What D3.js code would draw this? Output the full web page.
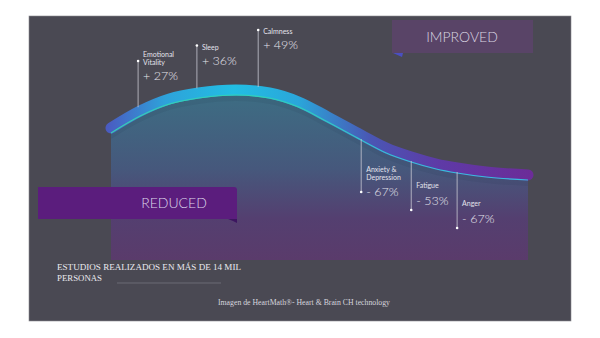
<!DOCTYPE html>
<html>
<head>
<meta charset="utf-8">
<script src="https://cdn.jsdelivr.net/npm/d3@7"></script>
<style>
  html, body { margin: 0; padding: 0; background: #ffffff; }
  svg { display: block; }
</style>
</head>
<body>
<svg id="chart" width="600" height="338"></svg>
<script>
// Wellbeing curve: position along the programme (0-100) and level (0-100)
const curveX     = [0, 7, 14, 21, 30, 38, 45, 52, 60, 66, 72, 78, 83, 90, 100];
const curveLevel = [63.5, 72, 78, 81, 82.5, 81, 76.5, 69, 60, 53.5, 49, 45.5, 43.5, 41.5, 40];

// Measured effects and where they sit along the curve
const effectNames  = [["Emotional", "Vitality"], ["Sleep"], ["Calmness"],
                      ["Anxiety &", "Depression"], ["Fatigue"], ["Anger"]];
const effectValues = [27, 36, 49, -67, -53, -67];
const effectAt     = [6.5, 20.6, 35.3, 60, 72, 83];

const improvedLabel = "IMPROVED";
const reducedLabel  = "REDUCED";
const noteLines     = ["ESTUDIOS REALIZADOS EN MÁS DE 14 MIL", "PERSONAS"];
const creditLine    = "Imagen de HeartMath®- Heart & Brain CH technology";

const svg = d3.select("#chart");
const defs = svg.append("defs");

const x = d3.scaleLinear().domain([0, 100]).range([111, 528]);
const y = d3.scaleLinear().domain([0, 100]).range([260, 60]);

const pts = curveX.map((d, i) => ({ x: d, v: curveLevel[i] }));
const bandW = 11;
const sans = "Lato, 'Open Sans', sans-serif";
const serif = "'Liberation Serif', 'DejaVu Serif', serif";

// Panel
svg.append("rect").attr("x", 29).attr("y", 16).attr("width", 542).attr("height", 305)
  .attr("fill", "#4a4953").attr("stroke", "#8a8a90").attr("stroke-width", 0.6);

// Gradients
const fillGrad = defs.append("linearGradient").attr("id", "fillGrad")
  .attr("gradientUnits", "userSpaceOnUse").attr("x1", 0).attr("y1", y(83)).attr("x2", 0).attr("y2", y(0));
[[0, "#3d6d83"], [0.45, "#46587c"], [0.75, "#543f70"], [1, "#5a3b6b"]]
  .forEach(([o, c]) => fillGrad.append("stop").attr("offset", o).attr("stop-color", c));

const bandGrad = defs.append("linearGradient").attr("id", "bandGrad")
  .attr("gradientUnits", "userSpaceOnUse").attr("x1", 105).attr("y1", 0).attr("x2", 534).attr("y2", 0);
[[0, "#4b58c0"], [0.14, "#2ea2da"], [0.3, "#22bee3"], [0.45, "#2aa6da"], [0.62, "#4a56b4"],
 [0.78, "#5e3aa6"], [1, "#6c2c98"]]
  .forEach(([o, c]) => bandGrad.append("stop").attr("offset", o).attr("stop-color", c));

const edgeGrad = defs.append("linearGradient").attr("id", "edgeGrad")
  .attr("gradientUnits", "userSpaceOnUse").attr("x1", 111).attr("y1", 0).attr("x2", 528).attr("y2", 0);
[[0, "#35d2b2"], [0.45, "#30d0b8"], [0.65, "#34c2d4"], [1, "#3ab9e2"]]
  .forEach(([o, c]) => edgeGrad.append("stop").attr("offset", o).attr("stop-color", c));

// Area under the curve
const area = d3.area().x(d => x(d.x)).y0(y(0)).y1(d => y(d.v)).curve(d3.curveMonotoneX);
svg.append("path").datum(pts).attr("d", area).attr("fill", "url(#fillGrad)");

// Faint shadow beneath the band
const shadowArea = d3.area().x(d => x(d.x)).y0(d => y(d.v) + 6).y1(d => y(d.v)).curve(d3.curveMonotoneX);
svg.append("path").datum(pts).attr("d", shadowArea).attr("fill", "#1e2a40").attr("opacity", 0.08);

// Band riding on top of the curve
const bandLine = d3.line().x(d => x(d.x)).y(d => y(d.v) - bandW / 2 + 0.5).curve(d3.curveMonotoneX);
svg.append("path").datum(pts).attr("d", bandLine)
  .attr("fill", "none").attr("stroke", "url(#bandGrad)").attr("stroke-width", bandW)
  .attr("stroke-linecap", "round");

const edgeLine = d3.line().x(d => x(d.x)).y(d => y(d.v)).curve(d3.curveMonotoneX);
svg.append("path").datum(pts).attr("d", edgeLine)
  .attr("fill", "none").attr("stroke", "url(#edgeGrad)").attr("stroke-width", 1.2);

// Curve level at an arbitrary position (linear between samples)
const levelAt = d3.scaleLinear().domain(curveX).range(curveLevel);

// Callouts
const textCol = "#e4e3ec";
const ups = [], downs = [];
effectValues.forEach((v, i) => (v > 0 ? ups : downs).push(i));

ups.forEach((i, k) => {
  const v = effectValues[i];
  const cx = x(effectAt[i]);
  const tip = 61 - k * 15.5;
  const base = y(levelAt(effectAt[i])) - bandW + 1;
  svg.append("line").attr("x1", cx).attr("x2", cx).attr("y1", tip).attr("y2", base)
    .attr("stroke", "#c8c8d2").attr("stroke-width", 0.8);
  svg.append("circle").attr("cx", cx).attr("cy", tip).attr("r", 1.3).attr("fill", "#ffffff");
  const names = effectNames[i];
  const first = names.length > 1 ? tip - 4 : tip + 4;
  names.forEach((n, j) => {
    svg.append("text").attr("x", cx + 5).attr("y", first + j * 8)
      .attr("font-family", sans).attr("font-size", 7)
      .attr("fill", textCol).text(n);
  });
  svg.append("text").attr("x", cx + 5).attr("y", first + (names.length - 1) * 8 + 15)
    .attr("font-family", sans).attr("font-weight", 300)
    .attr("font-size", 12.5).attr("fill", textCol).text("+ " + v + "%");
});

downs.forEach((i, k) => {
  const v = effectValues[i];
  const cx = x(effectAt[i]);
  const tip = 192 + k * 18;
  const base = y(levelAt(effectAt[i])) - 1;
  svg.append("line").attr("x1", cx).attr("x2", cx).attr("y1", base).attr("y2", tip)
    .attr("stroke", "#c8c8d2").attr("stroke-width", 0.8);
  svg.append("circle").attr("cx", cx).attr("cy", tip).attr("r", 1.3).attr("fill", "#ffffff");
  const names = effectNames[i];
  const valY = names.length > 1 ? tip + 4 : tip - 5.5;
  const lastY = valY - 16.5;
  names.forEach((n, j) => {
    svg.append("text").attr("x", cx + 5).attr("y", lastY - (names.length - 1 - j) * 7.5)
      .attr("font-family", sans).attr("font-size", 7)
      .attr("fill", textCol).text(n);
  });
  svg.append("text").attr("x", cx + 5).attr("y", valY)
    .attr("font-family", sans).attr("font-weight", 300)
    .attr("font-size", 12.5).attr("fill", textCol).text("- " + Math.abs(v) + "%");
});

// IMPROVED tag
svg.append("rect").attr("x", 392).attr("y", 20).attr("width", 141).attr("height", 33)
  .attr("fill", "#5a4468").attr("opacity", 0.95);
svg.append("polygon").attr("points", "393,53 403,53 402,57").attr("fill", "#4a4fc2");
svg.append("text").attr("x", 462).attr("y", 42).attr("text-anchor", "middle")
  .attr("font-family", sans).attr("font-weight", 300)
  .attr("font-size", 14).attr("fill", "#d9d5e2").text(improvedLabel);

// REDUCED tag
svg.append("path").attr("d", "M38,187 H234 Q237,187 237,190 V219 H38 Z").attr("fill", "#5b1d7d");
svg.append("polygon").attr("points", "228,219 237,219 237,223 233,221").attr("fill", "#3d1560");
svg.append("text").attr("x", 174).attr("y", 208).attr("text-anchor", "middle")
  .attr("font-family", sans).attr("font-weight", 300)
  .attr("font-size", 14).attr("fill", "#ddd6ea").text(reducedLabel);

// Note and credit
svg.append("text").attr("x", 57).attr("y", 270).attr("textLength", 184).attr("lengthAdjust", "spacingAndGlyphs")
  .attr("font-family", serif).attr("font-size", 8.5)
  .attr("fill", "#ebe9f0").text(noteLines[0]);
svg.append("text").attr("x", 57).attr("y", 281).attr("textLength", 45).attr("lengthAdjust", "spacingAndGlyphs")
  .attr("font-family", serif).attr("font-size", 8.5)
  .attr("fill", "#ebe9f0").text(noteLines[1]);
svg.append("line").attr("x1", 117).attr("x2", 221).attr("y1", 283).attr("y2", 283)
  .attr("stroke", "#74737f").attr("stroke-width", 0.8);

svg.append("text").attr("x", 218).attr("y", 305).attr("textLength", 172).attr("lengthAdjust", "spacingAndGlyphs")
  .attr("font-family", serif).attr("font-size", 7.5)
  .attr("fill", "#d6d5de").text(creditLine);
</script>
</body>
</html>
